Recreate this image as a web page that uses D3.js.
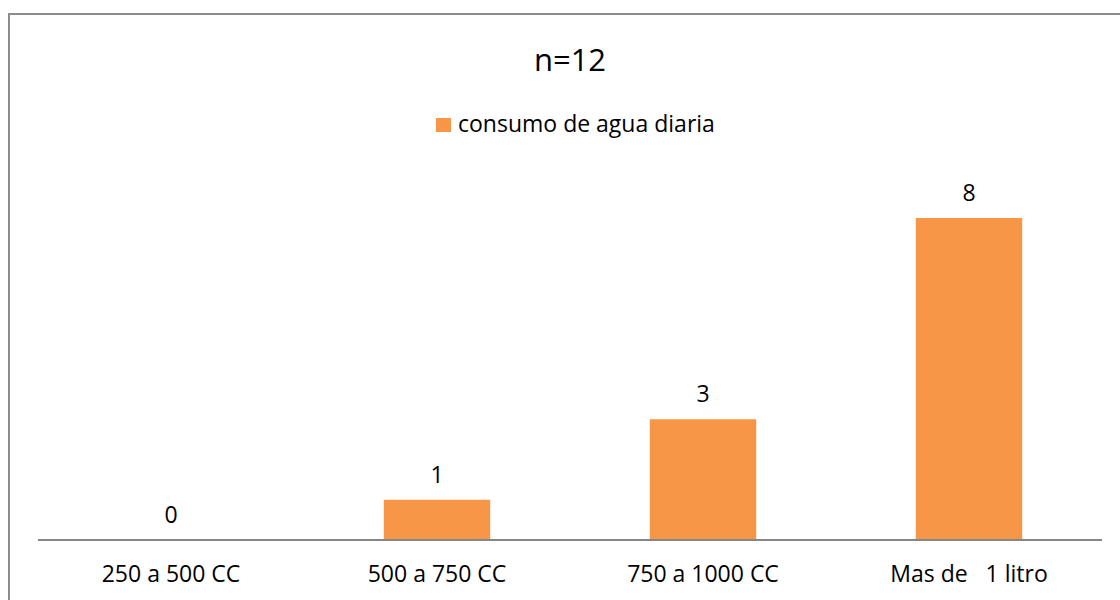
<!DOCTYPE html>
<html>
<head>
<meta charset="utf-8">
<script src="https://cdn.jsdelivr.net/npm/d3@7"></script>
<style>
  html, body { margin: 0; padding: 0; background: #fff; }
  svg { display: block; }
  text { font-family: "Open Sans", "Noto Sans", sans-serif; fill: #000; }
</style>
</head>
<body>
<div id="chart"></div>
<script>
// Daily water intake, number of respondents per range
const categories = ["250 a 500 CC", "500 a 750 CC", "750 a 1000 CC", "Mas de   1 litro"];
const values = [0, 1, 3, 8];
const seriesName = "consumo de agua diaria";
const titleText = "n=12";

const W = 1120, H = 600;
const svg = d3.select("#chart").append("svg")
  .attr("width", W).attr("height", H);

// outer frame (only top and left edges fall inside the view)
svg.append("rect")
  .attr("x", 9).attr("y", 14)
  .attr("width", W + 20).attr("height", H + 20)
  .attr("fill", "#fff")
  .attr("stroke", "#8c8c8c").attr("stroke-width", 2);

const plot = { left: 38, right: 1102, bottom: 540 };

const x = d3.scaleBand()
  .domain(categories)
  .range([plot.left, plot.right])
  .paddingInner(0.6)
  .paddingOuter(0.3);

// 40.25 px per unit
const y = d3.scaleLinear()
  .domain([0, 8])
  .range([plot.bottom, 218]);

// bars
svg.append("g").selectAll("rect")
  .data(values)
  .join("rect")
  .attr("x", (d, i) => x(categories[i]))
  .attr("y", d => y(d))
  .attr("width", x.bandwidth())
  .attr("height", d => y(0) - y(d))
  .attr("fill", "#F79646");

// value labels
svg.append("g").selectAll("text")
  .data(values)
  .join("text")
  .attr("x", (d, i) => x(categories[i]) + x.bandwidth() / 2)
  .attr("y", d => y(d) - 17)
  .attr("text-anchor", "middle")
  .attr("font-size", 23)
  .text(d => d);

// category axis: labels from the axis generator, baseline drawn over the band range
const axis = svg.append("g")
  .attr("transform", `translate(0,${plot.bottom})`)
  .call(d3.axisBottom(x).tickSize(0).tickPadding(26));
axis.select(".domain").remove();
axis.append("line")
  .attr("x1", x.range()[0]).attr("x2", x.range()[1])
  .attr("y1", 0).attr("y2", 0)
  .attr("stroke", "#868686").attr("stroke-width", 2);
axis.selectAll("text")
  .attr("font-size", 23)
  .attr("font-family", "'Open Sans', 'Noto Sans', sans-serif")
  .attr("fill", "#000")
  .style("white-space", "pre");

// title
svg.append("text")
  .attr("x", 570).attr("y", 71)
  .attr("text-anchor", "middle")
  .attr("font-size", 31)
  .text(titleText);

// legend
const lg = svg.append("g").attr("transform", "translate(436,118)");
lg.append("rect").attr("width", 15).attr("height", 14).attr("fill", "#F79646");
lg.append("text").attr("x", 22).attr("y", 14).attr("font-size", 23).text(seriesName);
</script>
</body>
</html>
